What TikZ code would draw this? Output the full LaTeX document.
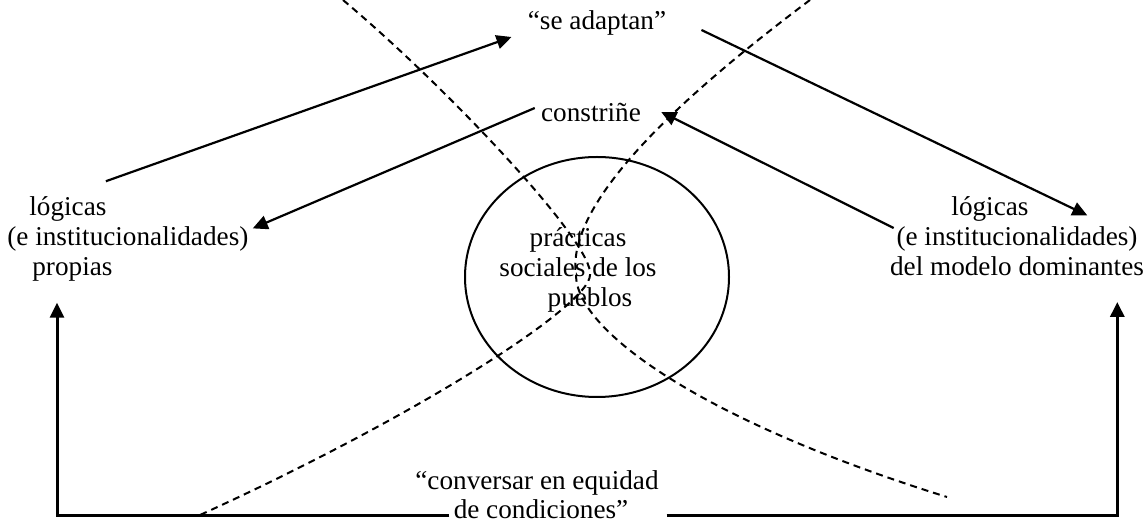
\documentclass[tikz,border=0pt]{standalone}
\usepackage{fontspec}
\setmainfont{Liberation Serif}
\usetikzlibrary{arrows.meta}

\begin{document}
\begin{tikzpicture}[x=0.5pt, y=-0.5pt,
		every node/.style={font=\fontsize{13.6}{15}\selectfont, inner sep=0pt},
		conn/.style={line width=1.1pt, -{Triangle[length=7.5pt, width=7pt]}},
		frame/.style={line width=1.5pt, -{Triangle[length=7.5pt, width=7pt]}},
		cut/.style={line width=1pt, dash pattern=on 3.5pt off 2.5pt}]
			%%%%% START %%%%%
			
			\useasboundingbox (0, 0) rectangle (1148, 523);
			
			\node[anchor=base] (adapt) at (597, 30) {“se adaptan”};
			\node[anchor=base] (constr) at (591, 122) {constriñe};
			
			\node[anchor=west, align=left] (prop) at (7, 239) {\hspace*{11pt}lógicas\\(e institucionalidades)\\\hspace*{12.5pt}propias};
			\node[align=center] (dom) at (1017, 236) {lógicas\hspace*{27pt}\\(e institucionalidades)\\del modelo dominantes};
			
			\draw[line width=1pt] (597, 277) ellipse [x radius=66pt, y radius=60pt];
			\node[align=center] (prac) at (578, 270) {prácticas\\sociales de los\\\hspace*{12pt}pueblos};
			
			\node[anchor=base] (conv) at (537, 490) {“conversar en equidad};
			\node[anchor=base] (cond) at (541, 519) {de condiciones”};
			
			% dashed cut through the centre
			\draw[cut] (343, 0) .. controls (450, 90) and (595, 245) .. (590, 275)
				.. controls (590, 305) and (420, 415) .. (200, 515);
			\draw[cut] (810, 0) .. controls (690, 90) and (565, 200) .. (576, 275)
				.. controls (576, 330) and (700, 420) .. (947, 497);
			
			% arrows
			\draw[conn] ([xshift=-11pt, yshift=7.5pt]prop.north) -- ([xshift=-8pt, yshift=-3.5pt]adapt.base west);
			\draw[conn] ([xshift=17.5pt]adapt.base east) -- ([xshift=-28.5pt, yshift=-9.7pt]dom.north east);
			\draw[conn] ([xshift=-3pt, yshift=7pt]constr.base west) -- ([xshift=2pt, yshift=5.3pt]prop.east);
			\draw[conn] ([xshift=2pt, yshift=4pt]dom.west) -- ([xshift=10pt, yshift=5pt]constr.base east);
			
			\draw[frame] ([xshift=-2pt, yshift=1.5pt]cond.base west) -| ([xshift=25pt, yshift=-10.5pt]prop.south west);
			\draw[frame] ([xshift=19pt, yshift=1.5pt]cond.base east) -| ([xshift=-13.5pt, yshift=-13pt]dom.south east);
			
			%%%%% END %%%%%
\end{tikzpicture}
\end{document}
